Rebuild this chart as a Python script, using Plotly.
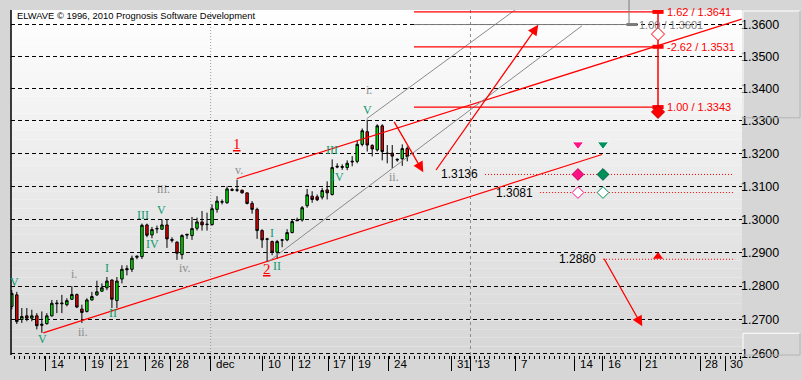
import numpy as np
import plotly.graph_objects as go

# ---------------- data ----------------
opens = [1.2740, 1.2774, 1.2701, 1.2712, 1.2705, 1.2712, 1.2684, 1.2689, 1.2712, 1.2750,
         1.2750, 1.2745, 1.2761, 1.2775, 1.2732, 1.2725, 1.2759, 1.2774, 1.2785, 1.2795,
         1.2818, 1.2757, 1.2821, 1.2852, 1.2850, 1.2886, 1.2888, 1.2983, 1.2953, 1.2971,
         1.2970, 1.2983, 1.2939, 1.2931, 1.2894, 1.2955, 1.2951, 1.2973, 1.2992, 1.2984,
         1.2984, 1.3030, 1.3052, 1.3050, 1.3090, 1.3088, 1.3088, 1.3080, 1.3048, 1.3030,
         1.2966, 1.2941, 1.2933, 1.2901, 1.2937, 1.2938, 1.2960, 1.2998, 1.2998, 1.3041,
         1.3070, 1.3068, 1.3067, 1.3089, 1.3075, 1.3161, 1.3160, 1.3157, 1.3174, 1.3176,
         1.3228, 1.3267, 1.3225, 1.3211, 1.3285, 1.3201, 1.3201, 1.3180, 1.3184, 1.3215]
highs = [1.2788, 1.2783, 1.2735, 1.2735, 1.2730, 1.2720, 1.2725, 1.2720, 1.2759, 1.2759,
         1.2774, 1.2764, 1.2800, 1.2778, 1.2745, 1.2764, 1.2783, 1.2816, 1.2808, 1.2827,
         1.2820, 1.2827, 1.2862, 1.2862, 1.2891, 1.2891, 1.2987, 1.2987, 1.2977, 1.2981,
         1.3000, 1.2998, 1.2946, 1.2934, 1.2955, 1.2956, 1.3007, 1.3005, 1.3025, 1.3020,
         1.3045, 1.3070, 1.3060, 1.3100, 1.3095, 1.3120, 1.3090, 1.3080, 1.3055, 1.3035,
         1.2970, 1.2944, 1.2936, 1.2938, 1.2940, 1.2970, 1.3000, 1.3005, 1.3040, 1.3092,
         1.3085, 1.3075, 1.3095, 1.3115, 1.3182, 1.3170, 1.3167, 1.3179, 1.3192, 1.3241,
         1.3277, 1.3304, 1.3228, 1.3290, 1.3290, 1.3226, 1.3226, 1.3185, 1.3228, 1.3222]
lows = [1.2731, 1.2688, 1.2691, 1.2696, 1.2696, 1.2672, 1.2662, 1.2686, 1.2710, 1.2720,
        1.2720, 1.2740, 1.2759, 1.2735, 1.2691, 1.2722, 1.2757, 1.2771, 1.2783, 1.2788,
        1.2735, 1.2735, 1.2808, 1.2832, 1.2842, 1.2880, 1.2881, 1.2946, 1.2943, 1.2958,
        1.2969, 1.2914, 1.2930, 1.2878, 1.2880, 1.2941, 1.2938, 1.2966, 1.2966, 1.2966,
        1.2981, 1.3020, 1.3045, 1.3047, 1.3085, 1.3083, 1.3078, 1.3045, 1.3017, 1.2941,
        1.2914, 1.2872, 1.2892, 1.2881, 1.2916, 1.2934, 1.2958, 1.2995, 1.2993, 1.3035,
        1.3050, 1.3055, 1.3060, 1.3060, 1.3072, 1.3155, 1.3150, 1.3149, 1.3161, 1.3170,
        1.3222, 1.3206, 1.3191, 1.3206, 1.3179, 1.3170, 1.3155, 1.3175, 1.3162, 1.3176]
closes = [1.2778, 1.2695, 1.2710, 1.2705, 1.2712, 1.2683, 1.2687, 1.2712, 1.2749, 1.2748,
          1.2748, 1.2757, 1.2775, 1.2738, 1.2722, 1.2759, 1.2769, 1.2783, 1.2795, 1.2815,
          1.2761, 1.2815, 1.2850, 1.2849, 1.2883, 1.2889, 1.2982, 1.2952, 1.2969, 1.2972,
          1.2983, 1.2941, 1.2937, 1.2898, 1.2951, 1.2953, 1.2972, 1.2992, 1.2983, 1.2985,
          1.3032, 1.3055, 1.3053, 1.3092, 1.3088, 1.3089, 1.3080, 1.3048, 1.3030, 1.2966,
          1.2938, 1.2940, 1.2901, 1.2933, 1.2938, 1.2960, 1.2993, 1.2996, 1.3035, 1.3074,
          1.3060, 1.3059, 1.3087, 1.3080, 1.3157, 1.3159, 1.3158, 1.3170, 1.3176, 1.3228,
          1.3270, 1.3226, 1.3214, 1.3285, 1.3206, 1.3200, 1.3192, 1.3182, 1.3215, 1.3190]
bar_index = list(range(len(opens)))

price_ticks = [1.26, 1.27, 1.28, 1.29, 1.30, 1.31, 1.32, 1.33, 1.34, 1.35, 1.36]
price_tick_text = ["1.2600", "1.2700", "1.2800", "1.2900", "1.3000", "1.3100",
                   "1.3200", "1.3300", "1.3400", "1.3500", "1.3600"]

date_tick_pos = [6.77, 14.82, 19.82, 26.75, 31.74, 39.73, 50.18, 56.17, 63.17, 68.15,
                 75.35, 87.87, 91.63, 100.72, 112.5, 118.1, 125.5, 137.5, 142.5]
date_tick_text = ["14", "19", "21", "26", "28", "dec", "10", "12", "17", "19",
                  "24", "31", "'13", "7", "14", "16", "21", "28", "30"]
month_line_pos = [39.73]
year_line_pos = [91.63]

# wave labels (text, bar position, price)
green_wave_text = ["V", "V", "I", "II", "III", "IV", "V", "I", "II", "III", "IV", "V"]
green_wave_x = [0.58, 6.13, 18.92, 20.12, 26.11, 28.1, 30.0, 51.98, 52.98, 64.06, 65.16, 71.06]
green_wave_p = [1.2813, 1.2643, 1.2853, 1.2721, 1.3014, 1.2926, 1.3028, 1.2960, 1.2861, 1.3210, 1.3128, 1.3333]

gray_wave_text = ["i.", "ii.", "iii.", "iv.", "v.", "i.", "ii."]
gray_wave_x = [12.33, 14.22, 30.4, 34.6, 45.29, 71.26, 76.3]
gray_wave_p = [1.2835, 1.2665, 1.3093, 1.2854, 1.3151, 1.3396, 1.3128]

red_wave_text = ["1", "2"]
red_wave_x = [44.89, 50.88]
red_wave_p = [1.3228, 1.2851]

# channel lines
upper_channel_x = [44.93, 145.8]
upper_channel_p = [1.3123, 1.3618]
lower_channel_x = [6.29, 117.9]
lower_channel_p = [1.2662, 1.3197]
gray_line1_x = [51.18, 113.9]
gray_line1_p = [1.2872, 1.3597]
gray_line2_x = [70.9, 105.5]
gray_line2_p = [1.3307, 1.3705]

# Fibonacci target levels
fib_prices = [1.3641, 1.3531, 1.3343]
fib_text = ["1.62 / 1.3641", "-2.62 / 1.3531", "1.00 / 1.3343"]
fib_x = [80.34, 129.09]
fib_open_diamond_p = 1.3571
fib_solid_diamond_p = 1.3328
gray_level_price = 1.3601
gray_level_text = "1.00 / 1.3601"
gray_level_x = [80.34, 123.9]

# dotted price levels
level_prices = [1.3136, 1.3081, 1.2880]
level_text = ["1.3136", "1.3081", "1.2880"]
level_start = [94.53, 105.5, 118.1]
level_end = [144.3, 144.3, 144.5]

# signal markers
pink_x, green_x = 113.1, 118.1
signal_tri_p = 1.3228
red_tri_x, red_tri_p = 129.1, 1.2888

# arrows (tail -> head)
arrow_tail_x = [76.21, 84.54, 118.16]
arrow_tail_p = [1.3302, 1.3145, 1.2886]
arrow_head_x = [82.2, 105.17, 125.95]
arrow_head_p = [1.3143, 1.3600, 1.2681]

# ---------------- figure ----------------
RED = "#ff0000"
fig = go.Figure()

fig.add_trace(go.Candlestick(
    x=bar_index, open=opens, high=highs, low=lows, close=closes,
    increasing=dict(fillcolor="#00ee00", line=dict(color="black", width=1)),
    decreasing=dict(fillcolor="#ee0000", line=dict(color="black", width=1)),
    whiskerwidth=0, showlegend=False, hoverinfo="skip"))


def add_line(xs, ps, color, width=1.0, dash="solid"):
    fig.add_trace(go.Scatter(x=xs, y=ps, mode="lines",
                             line=dict(color=color, width=width, dash=dash),
                             showlegend=False, hoverinfo="skip"))


add_line(upper_channel_x, upper_channel_p, RED, 1.2)
add_line(lower_channel_x, lower_channel_p, RED, 1.2)
add_line(gray_line1_x, gray_line1_p, "#8a8a8a", 1)
add_line(gray_line2_x, gray_line2_p, "#8a8a8a", 1)

for p in fib_prices:
    add_line(fib_x, [p, p], RED, 1.3)
add_line([fib_x[1], fib_x[1]], [fib_prices[2], fib_prices[0]], RED, 1.5)
add_line(gray_level_x, [gray_level_price, gray_level_price], "#7a7a7a", 1)

for p, s, e in zip(level_prices, level_start, level_end):
    add_line([s, e], [p, p], RED, 1, "1px,2px")

# fib markers
fig.add_trace(go.Scatter(x=[fib_x[1]] * 3, y=fib_prices, mode="markers",
                         marker=dict(symbol="line-ew", size=8, line=dict(color=RED, width=4)),
                         showlegend=False, hoverinfo="skip"))
fig.add_trace(go.Scatter(x=[fib_x[1]], y=[fib_open_diamond_p], mode="markers",
                         marker=dict(symbol="diamond", size=10, color="white", line=dict(color=RED, width=1)),
                         showlegend=False, hoverinfo="skip"))
fig.add_trace(go.Scatter(x=[fib_x[1]], y=[fib_solid_diamond_p], mode="markers",
                         marker=dict(symbol="diamond", size=10, color=RED, line=dict(color="#c00000", width=1)),
                         showlegend=False, hoverinfo="skip"))
fig.add_trace(go.Scatter(x=[gray_level_x[1]], y=[gray_level_price], mode="markers",
                         marker=dict(symbol="line-ew", size=8, line=dict(color="#7a7a7a", width=3)),
                         showlegend=False, hoverinfo="skip"))

# signal markers
PINK, GREEN = "#ff1084", "#00905a"
fig.add_trace(go.Scatter(x=[pink_x, green_x], y=[signal_tri_p] * 2, mode="markers",
                         marker=dict(symbol="triangle-down", size=10, color=[PINK, GREEN],
                                     line=dict(color="white", width=1)),
                         showlegend=False, hoverinfo="skip"))
fig.add_trace(go.Scatter(x=[pink_x, green_x], y=[level_prices[0]] * 2, mode="markers",
                         marker=dict(symbol="diamond", size=9, color=[PINK, GREEN],
                                     line=dict(color=["#c0005a", "#006040"], width=1)),
                         showlegend=False, hoverinfo="skip"))
fig.add_trace(go.Scatter(x=[pink_x, green_x], y=[level_prices[1]] * 2, mode="markers",
                         marker=dict(symbol="diamond", size=9, color="white",
                                     line=dict(color=[PINK, GREEN], width=1)),
                         showlegend=False, hoverinfo="skip"))
fig.add_trace(go.Scatter(x=[red_tri_x], y=[red_tri_p], mode="markers",
                         marker=dict(symbol="triangle-up", size=9, color=RED),
                         showlegend=False, hoverinfo="skip"))

ann = []
SERIF = "Liberation Serif, DejaVu Serif, serif"
SANS = "Liberation Sans, Arial, sans-serif"
for t, x, p in zip(green_wave_text, green_wave_x, green_wave_p):
    ann.append(dict(x=x, y=np.log10(p), text=t, showarrow=False,
                    font=dict(family=SERIF, size=12, color="#0b9a6c")))
for t, x, p in zip(gray_wave_text, gray_wave_x, gray_wave_p):
    ann.append(dict(x=x, y=np.log10(p), text=t, showarrow=False,
                    font=dict(family=SERIF, size=12, color="#8c8c8c")))
for t, x, p in zip(red_wave_text, red_wave_x, red_wave_p):
    ann.append(dict(x=x, y=np.log10(p), text="<u>" + t + "</u>", showarrow=False,
                    font=dict(family=SERIF, size=15, color=RED)))
for t, p in zip(fib_text, fib_prices):
    ann.append(dict(x=fib_x[1] + 1.4, y=np.log10(p), text=t, showarrow=False, xanchor="left",
                    font=dict(family=SANS, size=11, color=RED)))
ann.append(dict(x=gray_level_x[1] + 1.0, y=np.log10(gray_level_price), text=gray_level_text,
                showarrow=False, xanchor="left", font=dict(family=SANS, size=11, color="#808080")))
for t, p, s in zip(level_text, level_prices, level_start):
    ann.append(dict(x=s - 1.0, y=np.log10(p), text=t, showarrow=False, xanchor="right",
                    font=dict(family=SANS, size=12, color="black")))
for tx, tp, hx, hp in zip(arrow_tail_x, arrow_tail_p, arrow_head_x, arrow_head_p):
    ann.append(dict(x=hx, y=np.log10(hp), ax=tx, ay=np.log10(tp), axref="x", ayref="y",
                    text="", showarrow=True, arrowhead=2, arrowsize=1.6, arrowwidth=1.3,
                    arrowcolor=RED))
for pos, t in zip(date_tick_pos, date_tick_text):
    ann.append(dict(x=pos + 0.6, y=-0.026, yref="paper", text=t, showarrow=False,
                    xanchor="left", yanchor="middle",
                    font=dict(family=SANS, size=11.5, color="black")))
ann.append(dict(x=0.0055, y=0.984, xref="paper", yref="paper",
                text="ELWAVE \u00a9 1996, 2010 Prognosis Software Development",
                showarrow=False, xanchor="left", yanchor="middle",
                font=dict(family=SANS, size=9.4, color="black")))

shapes = []
N = 40
for i in range(N):
    c = int(round(214 + (255 - 214) * (i + 0.5) / N))
    shapes.append(dict(type="rect", xref="paper", yref="paper", x0=0, x1=1,
                       y0=i / N, y1=(i + 1) / N, fillcolor=f"rgb({c},{c},{c})",
                       line=dict(width=0), layer="below"))
for x in month_line_pos:
    shapes.append(dict(type="line", xref="x", yref="paper", x0=x, x1=x, y0=0, y1=1,
                       line=dict(color="#9a9a9a", width=1, dash="1px,2px"), layer="below"))
for x in year_line_pos:
    shapes.append(dict(type="line", xref="x", yref="paper", x0=x, x1=x, y0=0, y1=1,
                       line=dict(color="#8a8a8a", width=1, dash="3px,3px"), layer="below"))
shapes.append(dict(type="line", xref="paper", yref="paper", x0=0, x1=0, y0=0, y1=1,
                   line=dict(color="black", width=1.5)))

ylo, yhi = np.log10(1.2597), np.log10(1.3647)
gy = (np.log10(gray_level_price) - ylo) / (yhi - ylo)
shapes.append(dict(type="line", xref="x", yref="paper", x0=gray_level_x[1] - 0.6,
                   x1=gray_level_x[1] - 0.6, y0=gy, y1=1.03,
                   line=dict(color="#7a7a7a", width=1)))
# right panel boxes
for (y0, y1) in [((359 - 119) / 349, (359 - 11) / 349), (0.0, (359 - 337) / 349)]:
    x0, x1 = (743 - 11) / 731, (800 - 11) / 731
    shapes.append(dict(type="line", xref="paper", yref="paper", x0=x0, x1=x1, y0=y1, y1=y1,
                       line=dict(color="white", width=1)))
    shapes.append(dict(type="line", xref="paper", yref="paper", x0=x0, x1=x0, y0=y0, y1=y1,
                       line=dict(color="white", width=1)))
    shapes.append(dict(type="line", xref="paper", yref="paper", x0=x0, x1=x1, y0=y0, y1=y0,
                       line=dict(color="#b4b4b4", width=1)))
    shapes.append(dict(type="line", xref="paper", yref="paper", x0=x1, x1=x1, y0=y0, y1=y1,
                       line=dict(color="#b4b4b4", width=1)))

fig.update_layout(
    width=802, height=380,
    margin=dict(l=11, r=60, t=10, b=21),
    paper_bgcolor="#d6d6d6", plot_bgcolor="white",
    showlegend=False, hovermode=False,
    annotations=ann, shapes=shapes,
    xaxis=dict(range=[-0.16, 145.87], showgrid=False, zeroline=False,
               tickmode="array", tickvals=date_tick_pos, showticklabels=False,
               ticks="outside", ticklen=15, tickcolor="black", tickwidth=1,
               minor=dict(ticks="outside", ticklen=3, dtick=1, tick0=0.5,
                          tickcolor="black", showgrid=False),
               rangeslider=dict(visible=False), showline=False, fixedrange=True),
    yaxis=dict(type="log", range=[ylo, yhi], side="right",
               tickmode="array", tickvals=price_ticks, ticktext=price_tick_text,
               showgrid=True, gridcolor="black", gridwidth=1, griddash="4px,3px",
               zeroline=False, ticks="", showline=False, ticklabelstandoff=-2,
               tickfont=dict(family=SANS, size=12.5, color="black"), fixedrange=True),
)

fig.write_html("out.html")
